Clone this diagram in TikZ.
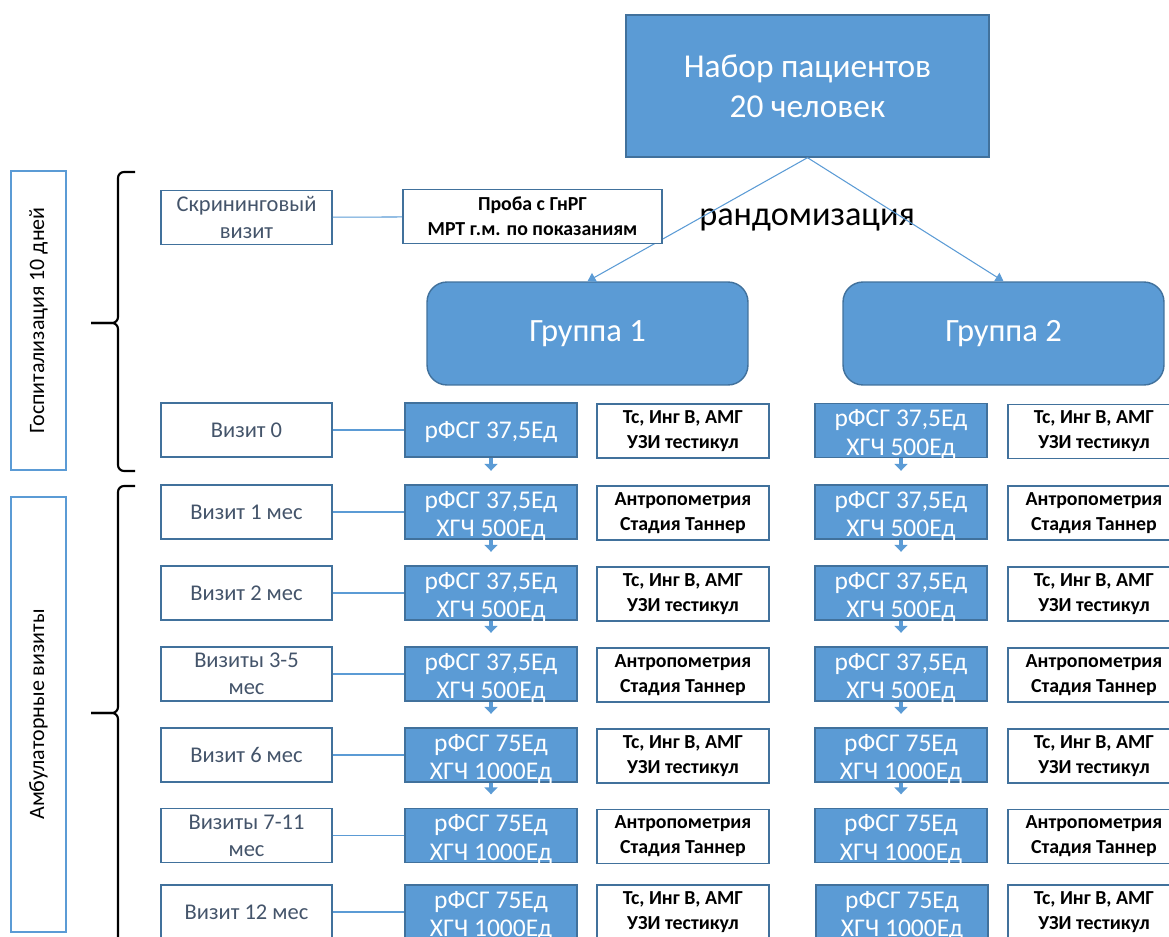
\documentclass[tikz,border=0pt]{standalone}
\usepackage{fontspec}
\setmainfont{Carlito}
\usetikzlibrary{arrows.meta, positioning}
\definecolor{boxblue}{HTML}{5B9BD5}
\definecolor{edgeblue}{HTML}{41719C}
\definecolor{visitgray}{HTML}{44546A}
\tikzstyle{topbox} = [rectangle, minimum width=7.26cm, minimum height=2.84cm, draw=edgeblue, fill=boxblue, line width=0.8pt, text=white, align=center, font=\fontsize{19}{22.8}\selectfont]
\tikzstyle{groupbox} = [rectangle, rounded corners=0.4cm, minimum width=6.42cm, minimum height=2.06cm, draw=edgeblue, fill=boxblue, line width=0.8pt, text=white, font=\fontsize{18.5}{22}\selectfont]
\tikzstyle{randtext} = [font=\fontsize{19.5}{22}\selectfont, inner sep=0pt]
\tikzstyle{sidebox} = [rectangle, rotate=90, minimum height=1.1cm, draw=boxblue, line width=1.1pt, fill=white, font=\fontsize{12.5}{15}\selectfont]
\tikzstyle{visit} = [rectangle, minimum width=3.42cm, minimum height=1.08cm, draw=edgeblue, line width=1.1pt, text=visitgray, align=center, inner sep=0pt, font=\fontsize{12.8}{15.4}\selectfont]
\tikzstyle{dose} = [rectangle, minimum width=3.44cm, minimum height=1.08cm, draw=edgeblue, fill=boxblue, line width=0.8pt, inner sep=0pt]
\tikzstyle{dosetext} = [text=white, align=center, inner sep=0pt, yshift=-0.08cm, font=\fontsize{14.5}{16.3}\selectfont]
\tikzstyle{test} = [rectangle, minimum width=3.44cm, minimum height=1.08cm, draw=edgeblue, line width=1.1pt, fill=white, align=center, inner sep=0pt, font=\bfseries\fontsize{11.3}{14.2}\selectfont]
\tikzstyle{link} = [draw=boxblue, line width=0.6pt]
\tikzstyle{randarrow} = [draw=boxblue, line width=0.6pt, -{Triangle[width=0.2cm, length=0.16cm]}, boxblue]
\tikzstyle{doparrow} = [draw=boxblue, line width=2.2pt, -{Triangle[width=0.26cm, length=0.14cm]}, shorten >=0.27cm]
\tikzstyle{brace} = [draw=black, line width=1.2pt, rounded corners=0.12cm]

\begin{document}
\begin{tikzpicture}[x=0.02cm, y=-0.02cm]
	\useasboundingbox (0,0) rectangle (1169,936);
	\clip (0,0) rectangle (1169,936);

	% recruitment and randomisation
	\node(recruit)[topbox] at (807.5,86) {Набор пациентов\\20 человек};
	\node(rand)[randtext] at (807,220) {рандомизация};
	\node(group1)[groupbox] at (587.5,333.5) {\raisebox{-0.06cm}{Группа 1}};
	\node(group2)[groupbox] at (1003.5,333.5) {\raisebox{-0.06cm}{Группа 2}};
	\draw [randarrow] (recruit.south) -- (group1.north);
	\draw [randarrow] (recruit.south) -- (group2.north);

	% periods
	\node(hosp)[sidebox, minimum width=5.98cm] at (38.5,320.5) {Госпитализация 10 дней};
	\node(amb)[sidebox, minimum width=8.7cm] at (38.5,714.5) {Амбулаторные визиты};
	\draw [brace] (135,172) -- (118,172) -- (118,323) -- (91,323);
	\draw [brace] (91,323) -- (118,323) -- (118,471) -- (135,471);
	\draw [brace] (135,486) -- (118,486) -- (118,713) -- (91,713);
	\draw [brace] (91,713) -- (118,713) -- (118,960) -- (135,960);

	% visits
	\node(screen)[visit] at (246.5,217.5) {Скрининговый\\визит};
	\node(v0)[visit] at (246.5,430) {Визит 0};
	\node(v1)[visit] at (246.5,512) {Визит 1 мес};
	\node(v2)[visit] at (246.5,593) {Визит 2 мес};
	\node(v3)[visit] at (246.5,674) {Визиты 3-5\\мес};
	\node(v6)[visit] at (246.5,755) {Визит 6 мес};
	\node(v7)[visit] at (246.5,835.5) {Визиты 7-11\\мес};
	\node(v12)[visit] at (246.5,912) {Визит 12 мес};
	\node(gnrg)[test, minimum width=5.18cm] at (532.5,216.5) {Проба с ГнРГ\\МРТ г.м. по показаниям};

	% group 1
	\node(aa0)[dose, label={[dosetext, yshift=0.04cm]center:рФСГ 37,5Ед}] at (491,430) {};
	\node(aa1)[dose, label={[dosetext]center:рФСГ 37,5Ед\\ХГЧ 500Ед}] at (491,512) {};
	\node(aa2)[dose, label={[dosetext]center:рФСГ 37,5Ед\\ХГЧ 500Ед}] at (491,593) {};
	\node(aa3)[dose, label={[dosetext]center:рФСГ 37,5Ед\\ХГЧ 500Ед}] at (491,674) {};
	\node(aa6)[dose, label={[dosetext]center:рФСГ 75Ед\\ХГЧ 1000Ед}] at (491,755) {};
	\node(aa7)[dose, label={[dosetext]center:рФСГ 75Ед\\ХГЧ 1000Ед}] at (491,835.5) {};
	\node(aa12)[dose, label={[dosetext]center:рФСГ 75Ед\\ХГЧ 1000Ед}] at (491,912) {};
	\node(at0)[test] at (683,431) {Тс, Инг В, АМГ\\УЗИ тестикул};
	\node(at1)[test] at (683,513) {Антропометрия\\Стадия Таннер};
	\node(at2)[test] at (683,594) {Тс, Инг В, АМГ\\УЗИ тестикул};
	\node(at3)[test] at (683,675) {Антропометрия\\Стадия Таннер};
	\node(at6)[test] at (683,756) {Тс, Инг В, АМГ\\УЗИ тестикул};
	\node(at7)[test] at (683,836.5) {Антропометрия\\Стадия Таннер};
	\node(at12)[test] at (683,912) {Тс, Инг В, АМГ\\УЗИ тестикул};

	% group 2
	\node(bb0)[dose, label={[dosetext]center:рФСГ 37,5Ед\\ХГЧ 500Ед}] at (901,430.5) {};
	\node(bb1)[dose, label={[dosetext]center:рФСГ 37,5Ед\\ХГЧ 500Ед}] at (901,512) {};
	\node(bb2)[dose, label={[dosetext]center:рФСГ 37,5Ед\\ХГЧ 500Ед}] at (901,593) {};
	\node(bb3)[dose, label={[dosetext]center:рФСГ 37,5Ед\\ХГЧ 500Ед}] at (901,674) {};
	\node(bb6)[dose, label={[dosetext]center:рФСГ 75Ед\\ХГЧ 1000Ед}] at (901,755) {};
	\node(bb7)[dose, label={[dosetext]center:рФСГ 75Ед\\ХГЧ 1000Ед}] at (901,835.5) {};
	\node(bb12)[dose, label={[dosetext]center:рФСГ 75Ед\\ХГЧ 1000Ед}] at (902,912) {};
	\node(bt0)[test] at (1094,431.5) {Тс, Инг В, АМГ\\УЗИ тестикул};
	\node(bt1)[test] at (1094,513) {Антропометрия\\Стадия Таннер};
	\node(bt2)[test] at (1094,594) {Тс, Инг В, АМГ\\УЗИ тестикул};
	\node(bt3)[test] at (1094,675) {Антропометрия\\Стадия Таннер};
	\node(bt6)[test] at (1094,756) {Тс, Инг В, АМГ\\УЗИ тестикул};
	\node(bt7)[test] at (1094,836.5) {Антропометрия\\Стадия Таннер};
	\node(bt12)[test] at (1094,912) {Тс, Инг В, АМГ\\УЗИ тестикул};

	\draw [link] (screen) -- (gnrg);
	\draw [link] (v0) -- (aa0);
	\draw [link] (v1) -- (aa1);
	\draw [link] (v2) -- (aa2);
	\draw [link] (v3) -- (aa3);
	\draw [link] (v6) -- (aa6);
	\draw [link] (v7) -- (aa7);
	\draw [link] (v12) -- (aa12);

	\draw [doparrow] (aa0) -- (aa1);
	\draw [doparrow] (aa1) -- (aa2);
	\draw [doparrow] (aa2) -- (aa3);
	\draw [doparrow] (aa3) -- (aa6);
	\draw [doparrow] (aa6) -- (aa7);
	\draw [doparrow] (bb0) -- (bb1);
	\draw [doparrow] (bb1) -- (bb2);
	\draw [doparrow] (bb2) -- (bb3);
	\draw [doparrow] (bb3) -- (bb6);
	\draw [doparrow] (bb6) -- (bb7);
\end{tikzpicture}
\end{document}
